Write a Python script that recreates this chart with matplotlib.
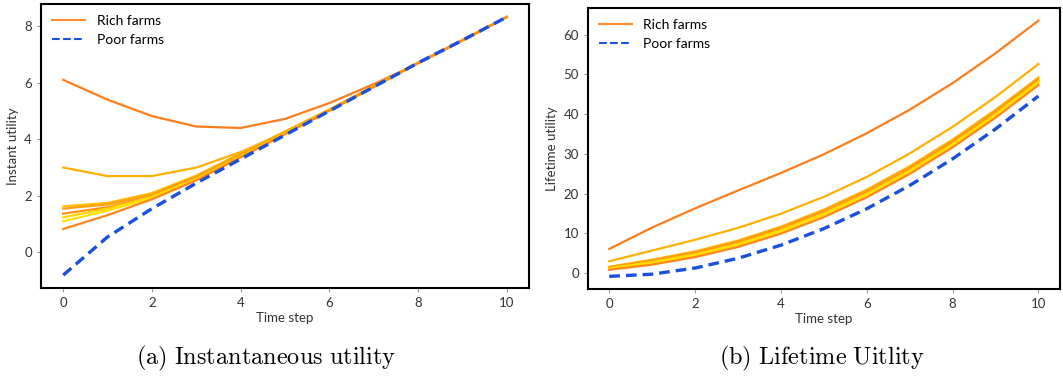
import matplotlib
matplotlib.use("Agg")
import matplotlib.pyplot as plt
from matplotlib.lines import Line2D

# ==============================
# Data
# ==============================
time_steps = list(range(11))

instant_rich = [
    [6.10, 5.40, 4.82, 4.45, 4.40, 4.72, 5.28, 5.95, 6.68, 7.48, 8.32],
    [3.00, 2.70, 2.70, 3.00, 3.55, 4.25, 5.05, 5.88, 6.70, 7.50, 8.32],
    [1.63, 1.75, 2.10, 2.72, 3.50, 4.28, 5.05, 5.87, 6.70, 7.50, 8.32],
    [1.55, 1.70, 2.05, 2.68, 3.47, 4.25, 5.04, 5.86, 6.70, 7.50, 8.32],
    [1.37, 1.60, 2.00, 2.63, 3.43, 4.23, 5.03, 5.86, 6.70, 7.50, 8.32],
    [1.24, 1.55, 1.97, 2.60, 3.40, 4.20, 5.02, 5.85, 6.70, 7.50, 8.32],
    [1.10, 1.48, 1.93, 2.58, 3.38, 4.20, 5.02, 5.85, 6.70, 7.50, 8.32],
    [0.83, 1.32, 1.88, 2.55, 3.36, 4.18, 5.01, 5.85, 6.70, 7.50, 8.32],
]
instant_poor = [-0.80, 0.55, 1.55, 2.45, 3.30, 4.15, 5.00, 5.85, 6.70, 7.50, 8.32]

lifetime_rich = [
    [6.10, 11.5, 16.3, 20.8, 25.2, 29.9, 35.2, 41.1, 47.8, 55.3, 63.5],
    [3.00, 5.70, 8.40, 11.4, 14.95, 19.2, 24.2, 30.1, 36.8, 44.3, 52.6],
    [1.60, 3.40, 5.50, 8.20, 11.7, 16.0, 21.0, 26.9, 33.6, 41.1, 49.2],
    [1.55, 3.25, 5.30, 8.00, 11.5, 15.7, 20.8, 26.6, 33.3, 40.8, 48.9],
    [1.35, 2.95, 4.95, 7.60, 11.0, 15.2, 20.3, 26.1, 32.8, 40.3, 48.5],
    [1.25, 2.80, 4.75, 7.35, 10.8, 15.0, 20.0, 25.8, 32.5, 40.0, 48.2],
    [1.10, 2.60, 4.50, 7.10, 10.5, 14.7, 19.7, 25.5, 32.2, 39.7, 47.9],
    [0.85, 2.15, 4.05, 6.60, 9.95, 14.1, 19.1, 24.95, 31.65, 39.1, 47.3],
]
lifetime_poor = [-0.80, -0.25, 1.30, 3.75, 7.05, 11.2, 16.2, 22.05, 28.75, 36.25, 44.55]

rich_colors = ["#fb7d1c", "#ffb000", "#ffbf00", "#ff9f10", "#ff9410", "#ffd500", "#ffe000", "#ff861a"]
poor_color = "#1a4fe0"

# ==============================
# Style
# ==============================
plt.rcParams["font.family"] = ["Lato", "DejaVu Sans"]
plt.rcParams["mathtext.fontset"] = "cm"

fig = plt.figure(figsize=(10.63, 3.76), dpi=100)
ax_a = fig.add_axes([0.0386, 0.234, 0.459, 0.755])
ax_b = fig.add_axes([0.553, 0.231, 0.444, 0.748])


def draw(ax, rich, poor, ylabel):
    for vals, c in zip(rich, rich_colors):
        ax.plot(time_steps, vals, color=c, linewidth=1.6)
    ax.plot(time_steps, poor, color=poor_color, linestyle=(0, (3.2, 1.8)), linewidth=2.4)

    ax.set_xticks([0, 2, 4, 6, 8, 10])
    ax.set_xlabel("Time step", fontsize=9.5, color="#333333", labelpad=2)
    ax.set_ylabel(ylabel, fontsize=9.5, color="#333333", labelpad=4)
    ax.tick_params(labelsize=9.5, labelcolor="#333333", color="#999999", length=3, width=0.8)
    for s in ax.spines.values():
        s.set_linewidth(1.5)
        s.set_color("black")

    handles = [
        Line2D([], [], color="#ff8c2e", linewidth=1.5),
        Line2D([], [], color=poor_color, linestyle="--", linewidth=1.5),
    ]
    ax.legend(handles, ["Rich farms", "Poor farms"], loc="upper left", frameon=False,
              fontsize=10, handlelength=2.4, labelspacing=0.5, borderaxespad=0.4)


draw(ax_a, instant_rich, instant_poor, "Instant utility")
draw(ax_b, lifetime_rich, lifetime_poor, "Lifetime utility")

fig.text(0.250, 0.048, r"$\mathrm{(a)\ Instantaneous\ utility}$", ha="center", va="center", fontsize=17.5)
fig.text(0.773, 0.048, r"$\mathrm{(b)\ Lifetime\ Uitlity}$", ha="center", va="center", fontsize=17.5)

fig.savefig("out.png", dpi=100)
